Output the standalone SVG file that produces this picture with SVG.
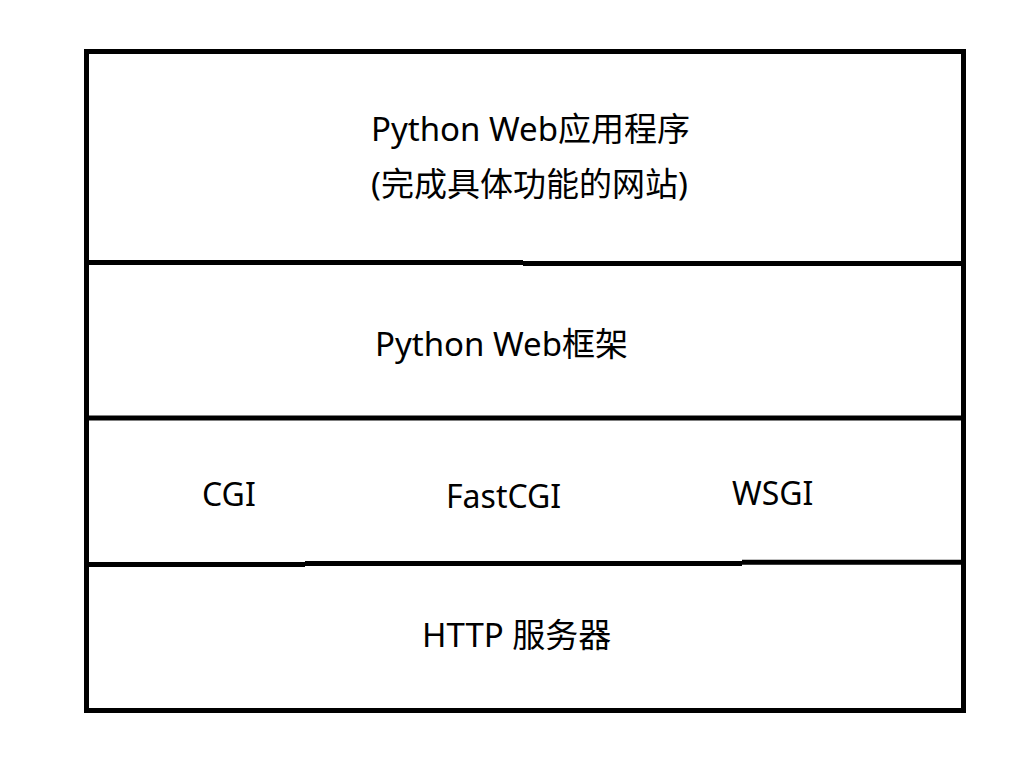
<svg xmlns="http://www.w3.org/2000/svg" width="1030" height="761" viewBox="0 0 1030 761">
<style>
.t{font-family:"Noto Sans","Noto Sans CJK SC",sans-serif;font-size:33px;fill:#000}
.s{font-size:32px}
.ln{fill:none;stroke:#000;stroke-width:5}
</style>
<rect width="1030" height="761" fill="#fff"/>
<g id="connectors">
<rect class="ln" x="86.5" y="51.5" width="877" height="659"/>
<path class="ln" d="M86 262.5H523M523 263.5H963"/>
<path class="ln" d="M86 418H963"/>
<path class="ln" d="M86 564.5H305M305 563.5H742M742 562.3H963"/>
</g>
<g id="app">
<text class="t" x="371" y="141">Python Web应用程序</text>
<text class="t" x="371" y="196">(完成具体功能的网站)</text>
</g>
<g id="framework">
<text class="t" x="375" y="356">Python Web框架</text>
</g>
<g id="cgi"><text class="t s" x="202" y="506">CGI</text></g>
<g id="fastcgi"><text class="t s" x="446" y="508">FastCGI</text></g>
<g id="wsgi"><text class="t s" x="732" y="505">WSGI</text></g>
<g id="http"><text class="t" x="422" y="647">HTTP 服务器</text></g>
</svg>
